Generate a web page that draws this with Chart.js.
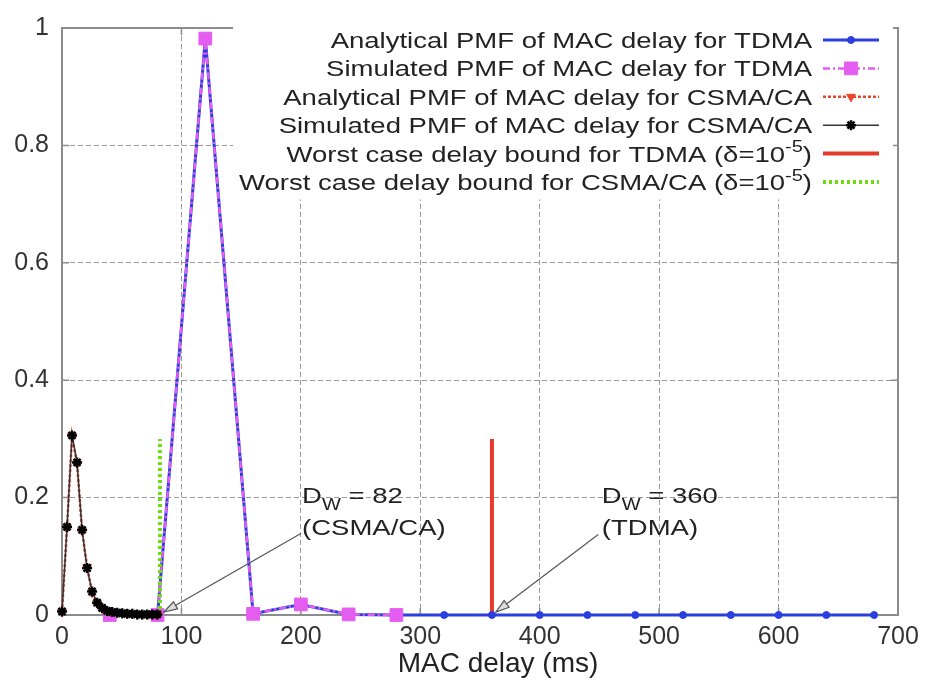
<!DOCTYPE html>
<html>
<head>
<meta charset="utf-8">
<script src="https://cdn.jsdelivr.net/npm/chart.js@4.4.1/dist/chart.umd.min.js"></script>
<style>
  html, body { margin: 0; padding: 0; background: #fff; }
  canvas { display: block; }
</style>
</head>
<body>
<canvas id="chart" width="928" height="679"></canvas>
<script>
const FONT = '"Liberation Sans", Arial, Helvetica, sans-serif';
const SX = 1.25; // the reference text is a bit wider than the face

// TDMA: one slot every 40 ms
const tdmaX = [40, 80, 120, 160, 200, 240, 280, 320, 360, 400, 440, 480, 520, 560, 600, 640, 680];
const tdmaAnalytical = [0, 0, 0.982, 0.002, 0.018, 0.001, 0, 0, 0, 0, 0, 0, 0, 0, 0, 0, 0];
const tdmaSimX = [40, 80, 120, 160, 200, 240, 280];
const tdmaSimulated = [0, 0, 0.982, 0.002, 0.018, 0.001, 0];

// CSMA/CA
const csmaX = [0, 4.2, 8.4, 12.6, 16.8, 21, 25.2, 29.4, 33.6, 37.8, 42, 46.2, 50.4, 54.6, 58.8, 63, 67.2, 71.4, 75.6, 79.8];
const csmaAnalytical = [0.005, 0.148, 0.305, 0.258, 0.144, 0.082, 0.038, 0.02, 0.011, 0.007, 0.005, 0.004, 0.003, 0.002, 0.002, 0.001, 0.001, 0.001, 0.001, 0.001];
const csmaSimulated = [0.006, 0.15, 0.306, 0.26, 0.145, 0.08, 0.04, 0.021, 0.012, 0.007, 0.005, 0.004, 0.003, 0.002, 0.002, 0.001, 0.001, 0.001, 0.001, 0.001];

// worst case delay bounds (delta = 1e-5)
const boundTdma = [360, 360];
const boundCsma = [82, 82];
const boundHeight = [0, 0.3];

const xTicks = { min: 0, max: 700, step: 100 };
const yTicks = { min: 0, max: 1, step: 0.2 };

const annotations = [
  { tipX: 82, value: '82', scheme: '(CSMA/CA)', textX: 201, textY: 0.19, fromX: 200, fromY: 0.139 },
  { tipX: 360, value: '360', scheme: '(TDMA)', textX: 452, textY: 0.19, fromX: 449, fromY: 0.137 }
];

function pts(xs, ys) {
  return xs.map((x, i) => ({ x, y: ys[i] }));
}

// split "abc^{-5})" into runs for super/subscripts
function parseRich(str, size) {
  const parts = [];
  const re = /([\^_])\{([^}]*)\}/g;
  let last = 0;
  let m;
  while ((m = re.exec(str))) {
    if (m.index > last) parts.push({ t: str.slice(last, m.index), size, dy: 0 });
    parts.push({ t: m[2], size: Math.round(size * 0.72), dy: m[1] === '^' ? -size * 0.42 : size * 0.3 });
    last = re.lastIndex;
  }
  if (last < str.length) parts.push({ t: str.slice(last), size, dy: 0 });
  return parts;
}

function richWidth(ctx, parts) {
  return parts.reduce((w, p) => {
    ctx.font = `${p.size}px ${FONT}`;
    return w + ctx.measureText(p.t).width * SX;
  }, 0);
}

function drawRich(ctx, parts, x, y) {
  let cx = x;
  parts.forEach((p) => {
    ctx.font = `${p.size}px ${FONT}`;
    ctx.save();
    ctx.translate(cx, y + p.dy);
    ctx.scale(SX, 1);
    ctx.fillText(p.t, 0, 0);
    ctx.restore();
    cx += ctx.measureText(p.t).width * SX;
  });
}

const gnuplotPlugin = {
  id: 'gnuplotLook',
  beforeDatasetsDraw(chart) {
    const { ctx, chartArea: a, scales: { x, y } } = chart;
    ctx.save();
    ctx.strokeStyle = '#8c8c8c';
    ctx.lineWidth = 1.5;
    ctx.beginPath();
    x.ticks.forEach((t) => {
      const px = x.getPixelForValue(t.value);
      ctx.moveTo(px, a.bottom); ctx.lineTo(px, a.bottom - 7);
      ctx.moveTo(px, a.top); ctx.lineTo(px, a.top + 7);
    });
    y.ticks.forEach((t) => {
      const py = y.getPixelForValue(t.value);
      ctx.moveTo(a.left, py); ctx.lineTo(a.left + 7, py);
      ctx.moveTo(a.right, py); ctx.lineTo(a.right - 7, py);
    });
    ctx.stroke();
    ctx.lineWidth = 2;
    ctx.strokeRect(a.left, a.top, a.right - a.left, a.bottom - a.top);
    ctx.restore();
  },
  afterDatasetsDraw(chart) {
    const { ctx, scales: { x, y } } = chart;
    ctx.save();
    ctx.fillStyle = '#222';
    ctx.textAlign = 'left';
    ctx.textBaseline = 'alphabetic';

    // key, opaque, no border
    const rows = chart.data.datasets
      .map((ds, i) => ({ ds, i }))
      .sort((p, q) => p.ds.keyRow - q.ds.keyRow);
    const textRight = 812;
    const rowTop = 40;
    const rowStep = 28.4;
    const layouts = rows.map((r) => {
      const parts = parseRich(r.ds.label, 22);
      return { ...r, parts, w: richWidth(ctx, parts) };
    });
    const boxLeft = Math.min(...layouts.map((l) => textRight - l.w)) - 6;
    ctx.fillStyle = '#fff';
    ctx.fillRect(boxLeft, rowTop - 15, 893 - boxLeft, rowStep * rows.length + 4);

    layouts.forEach((l, k) => {
      const cy = rowTop + k * rowStep;
      const ds = l.ds;
      ctx.fillStyle = '#222';
      drawRich(ctx, l.parts, textRight - l.w, cy + 8);

      ctx.save();
      ctx.strokeStyle = ds.borderColor;
      ctx.lineWidth = ds.borderWidth;
      ctx.setLineDash(ds.borderDash || []);
      ctx.beginPath();
      ctx.moveTo(823, cy);
      ctx.lineTo(879, cy);
      ctx.stroke();
      ctx.setLineDash([]);
      if (ds.pointRadius > 0 && Chart.helpers && Chart.helpers.drawPoint) {
        ctx.fillStyle = ds.pointBackgroundColor;
        ctx.strokeStyle = ds.pointBorderColor;
        ctx.lineWidth = ds.pointBorderWidth;
        Chart.helpers.drawPoint(ctx, {
          pointStyle: ds.pointStyle,
          radius: ds.pointRadius,
          borderWidth: ds.pointBorderWidth,
          rotation: ds.pointRotation || 0
        }, 851, cy);
      }
      ctx.restore();
    });

    // D_W labels with arrows
    annotations.forEach((an) => {
      const tx = x.getPixelForValue(an.textX);
      const ty = y.getPixelForValue(an.textY);
      ctx.fillStyle = '#222';
      drawRich(ctx, parseRich('D_{W} = ' + an.value, 22), tx, ty);
      drawRich(ctx, parseRich(an.scheme, 22), tx, ty + 32);

      const fx = x.getPixelForValue(an.fromX);
      const fy = y.getPixelForValue(an.fromY);
      const hx = x.getPixelForValue(an.tipX) + 4;
      const hy = y.getPixelForValue(0) - 3;
      const ang = Math.atan2(hy - fy, hx - fx);
      ctx.strokeStyle = '#555';
      ctx.lineWidth = 1.2;
      ctx.beginPath();
      ctx.moveTo(fx, fy);
      ctx.lineTo(hx, hy);
      ctx.stroke();
      ctx.beginPath();
      ctx.moveTo(hx, hy);
      ctx.lineTo(hx - 14 * Math.cos(ang - 0.3), hy - 14 * Math.sin(ang - 0.3));
      ctx.lineTo(hx - 14 * Math.cos(ang + 0.3), hy - 14 * Math.sin(ang + 0.3));
      ctx.closePath();
      ctx.fillStyle = '#ddd';
      ctx.fill();
      ctx.stroke();
    });
    ctx.restore();
  },
  afterDraw(chart) {
    const { ctx } = chart;
    ctx.save();
    ctx.fillStyle = '#222';
    ctx.font = `28px ${FONT}`;
    ctx.textAlign = 'center';
    ctx.textBaseline = 'alphabetic';
    ctx.fillText('MAC delay (ms)', 498, 672);
    ctx.restore();
  }
};

const datasets = [
  {
    label: 'Analytical PMF of MAC delay for TDMA',
    keyRow: 0, order: 5,
    data: pts(tdmaX, tdmaAnalytical),
    borderColor: '#2b3fe0', borderWidth: 3,
    pointStyle: 'circle', pointRadius: 3.5, pointBorderWidth: 1,
    pointBackgroundColor: '#2b3fe0', pointBorderColor: '#2b3fe0'
  },
  {
    label: 'Simulated PMF of MAC delay for TDMA',
    keyRow: 1, order: 4,
    data: pts(tdmaSimX, tdmaSimulated),
    borderColor: '#e55cf0', borderWidth: 2.5, borderDash: [7, 3, 2, 3],
    pointStyle: 'rect', pointRadius: 9, pointBorderWidth: 1,
    pointBackgroundColor: '#e55cf0', pointBorderColor: '#e55cf0'
  },
  {
    label: 'Analytical PMF of MAC delay for CSMA/CA',
    keyRow: 2, order: 2,
    data: pts(csmaX, csmaAnalytical),
    borderColor: '#e8472e', borderWidth: 2.5, borderDash: [3, 2],
    pointStyle: 'triangle', pointRotation: 180, pointRadius: 5, pointBorderWidth: 1,
    pointBackgroundColor: '#e8472e', pointBorderColor: '#e8472e'
  },
  {
    label: 'Simulated PMF of MAC delay for CSMA/CA',
    keyRow: 3, order: 1,
    data: pts(csmaX, csmaSimulated),
    borderColor: '#333', borderWidth: 1.5,
    pointStyle: 'star', pointRadius: 5, pointBorderWidth: 2.5,
    pointBackgroundColor: '#000', pointBorderColor: '#000'
  },
  {
    label: 'Worst case delay bound for TDMA (δ=10^{-5})',
    keyRow: 4, order: 6,
    data: pts(boundTdma, boundHeight),
    borderColor: '#e63a2b', borderWidth: 4,
    pointRadius: 0
  },
  {
    label: 'Worst case delay bound for CSMA/CA (δ=10^{-5})',
    keyRow: 5, order: 3,
    data: pts(boundCsma, boundHeight),
    borderColor: '#6fdc12', borderWidth: 4, borderDash: [3, 3],
    pointRadius: 0
  }
].map((ds) => ({ ...ds, showLine: true, clip: false, tension: 0 }));

new Chart(document.getElementById('chart'), {
  type: 'scatter',
  data: { datasets },
  options: {
    responsive: false,
    devicePixelRatio: 1,
    animation: false,
    layout: { padding: { top: 17, right: 30, left: 0, bottom: 0 } },
    plugins: {
      legend: { display: false },
      tooltip: { enabled: false }
    },
    scales: {
      x: {
        type: 'linear',
        min: xTicks.min,
        max: xTicks.max,
        afterFit(scale) { scale.height = 64; },
        ticks: {
          stepSize: xTicks.step,
          autoSkip: false,
          maxRotation: 0,
          padding: 7,
          color: '#333',
          font: { family: FONT, size: 25 }
        },
        grid: { color: '#9a9a9a', lineWidth: 1, drawTicks: false },
        border: { display: false, dash: [5, 3] }
      },
      y: {
        type: 'linear',
        min: yTicks.min,
        max: yTicks.max,
        afterFit(scale) { scale.width = 62; },
        ticks: {
          stepSize: yTicks.step,
          autoSkip: false,
          padding: 13,
          color: '#333',
          font: { family: FONT, size: 25 },
          callback: (value) => String(Math.round(value * 10) / 10)
        },
        grid: { color: '#9a9a9a', lineWidth: 1, drawTicks: false },
        border: { display: false, dash: [5, 3] }
      }
    }
  },
  plugins: [gnuplotPlugin]
});
</script>
</body>
</html>
